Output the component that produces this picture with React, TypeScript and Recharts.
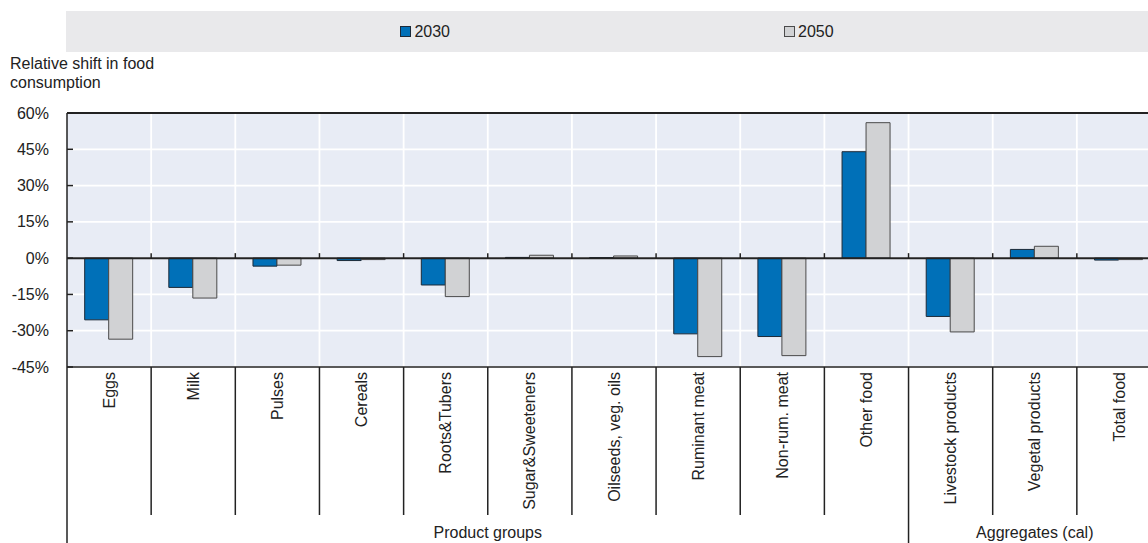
import React from "react";
import { BarChart, Bar, XAxis, YAxis, CartesianGrid, ReferenceLine } from "recharts";

const CATEGORIES = [
  "Eggs",
  "Milk",
  "Pulses",
  "Cereals",
  "Roots&Tubers",
  "Sugar&Sweeteners",
  "Oilseeds, veg. oils",
  "Ruminant meat",
  "Non-rum. meat",
  "Other food",
  "Livestock products",
  "Vegetal products",
  "Total food",
];
const SERIES_NAMES = ["2030", "2050"];
const VALUES_2030 = [-25.5, -12.1, -3.3, -1.0, -11.1, 0.3, 0.2, -31.3, -32.4, 44.0, -24.1, 3.6, -0.8];
const VALUES_2050 = [-33.5, -16.5, -2.9, -0.6, -15.9, 1.2, 0.9, -40.7, -40.3, 56.0, -30.5, 4.9, -0.6];
const Y_TICKS = [-45, -30, -15, 0, 15, 30, 45, 60];
const GROUPS = [
  { label: "Product groups", first: 0, count: 10 },
  { label: "Aggregates (cal)", first: 10, count: 3 },
];
const Y_TITLE = ["Relative shift in food", "consumption"];

const COLORS = ["#0070B8", "#D1D2D4"];
const STROKES = ["#1c2a38", "#4a4a4a"];

const data = CATEGORIES.map((c, i) => ({
  name: c,
  v2030: VALUES_2030[i],
  v2050: VALUES_2050[i],
}));

const CHART_W = 1161;
const CHART_H = 543;
const Y_AXIS_W = 67;
const X_AXIS_H = 176;
const TOP = 113;
const BW = (CHART_W - Y_AXIS_W) / CATEGORIES.length;
const FONT = "'Liberation Sans', Arial, sans-serif";
const TXT = "#222";

const YTick = (props: any) => {
  const { x, y, payload } = props;
  return (
    <g>
      <line x1={x} x2={x + 6} y1={y} y2={y} stroke={TXT} strokeWidth={1.5} />
      <text x={x - 18} y={y} dy="0.35em" textAnchor="end" fontSize={16} fill={TXT} fontFamily={FONT}>
        {payload.value}%
      </text>
    </g>
  );
};

const XTick = (props: any) => {
  const { x, y, payload } = props;
  const i = payload.index;
  const left = x - BW / 2;
  const isGroupStart = GROUPS.some((g) => g.first === i);
  const group = GROUPS.find((g) => g.first === i);
  return (
    <g>
      <line x1={left} x2={left} y1={y} y2={isGroupStart ? CHART_H : y + 148} stroke={TXT} strokeWidth={1.5} />
      <text
        x={x}
        y={y + 5}
        dy="0.35em"
        textAnchor="end"
        transform={`rotate(-90, ${x}, ${y + 5})`}
        fontSize={16}
        fill={TXT}
        fontFamily={FONT}
      >
        {payload.value}
      </text>
      {group && (
        <text
          x={left + (group.count * BW) / 2}
          y={y + 171}
          textAnchor="middle"
          fontSize={16}
          fill={TXT}
          fontFamily={FONT}
        >
          {group.label}
        </text>
      )}
    </g>
  );
};

const ZeroLine = (props: any) => {
  const { x1, y1, x2 } = props;
  const bw = (x2 - x1) / CATEGORIES.length;
  return (
    <g>
      <line x1={x1} x2={x2} y1={y1} y2={y1} stroke={TXT} strokeWidth={2} />
      {CATEGORIES.slice(1).map((_, k) => (
        <line
          key={k}
          x1={x1 + (k + 1) * bw}
          x2={x1 + (k + 1) * bw}
          y1={y1}
          y2={y1 - 5}
          stroke={TXT}
          strokeWidth={1.5}
        />
      ))}
    </g>
  );
};

const verticalGen = (args: any) => {
  const off = args && args.offset ? args.offset : { left: Y_AXIS_W, width: CHART_W - Y_AXIS_W };
  const w = off.width / CATEGORIES.length;
  return CATEGORIES.slice(1).map((_, k) => off.left + (k + 1) * w);
};

export default function App() {
  return (
    <div
      style={{
        position: "fixed",
        left: 0,
        top: 0,
        width: 1148,
        height: 543,
        overflow: "hidden",
        background: "#fff",
        fontFamily: FONT,
      }}
    >
      <div
        style={{
          position: "absolute",
          left: 66,
          top: 11,
          width: CHART_W - 66,
          height: 41,
          paddingLeft: 7,
          boxSizing: "border-box",
          background: "#E9E9EB",
          display: "flex",
          justifyContent: "center",
          alignItems: "center",
          gap: 334,
        }}
      >
        {SERIES_NAMES.map((n, i) => (
          <div key={n} style={{ display: "flex", alignItems: "center", color: TXT, fontSize: 16 }}>
            <span
              style={{
                display: "inline-block",
                width: 9,
                height: 9,
                background: COLORS[i],
                border: `1px solid ${STROKES[i]}`,
                marginRight: 3,
              }}
            />
            <span>{n}</span>
          </div>
        ))}
      </div>
      <div
        style={{
          position: "absolute",
          left: 10,
          top: 54,
          fontSize: 16,
          lineHeight: "19px",
          color: TXT,
        }}
      >
        {Y_TITLE.map((t) => (
          <div key={t}>{t}</div>
        ))}
      </div>
      <div style={{ position: "absolute", left: 0, top: 0 }}>
        <BarChart
          width={CHART_W}
          height={CHART_H}
          data={data}
          margin={{ top: TOP, right: 0, bottom: 0, left: 0 }}
          barCategoryGap="21%"
          barGap={0}
        >
          <CartesianGrid
            fill="#E8ECF5"
            stroke="#ffffff"
            strokeWidth={1.8}
            vertical={true}
            horizontal={true}
            verticalCoordinatesGenerator={verticalGen}
          />
          <XAxis
            dataKey="name"
            height={X_AXIS_H}
            interval={0}
            tickLine={false}
            tickSize={0}
            tickMargin={0}
            axisLine={{ stroke: TXT, strokeWidth: 1.5 }}
            tick={<XTick />}
          />
          <YAxis
            width={Y_AXIS_W}
            domain={[-45, 60]}
            ticks={Y_TICKS}
            interval={0}
            tickLine={false}
            tickSize={0}
            tickMargin={0}
            axisLine={{ stroke: TXT, strokeWidth: 1.5 }}
            tick={<YTick />}
            allowDataOverflow={true}
          />
          <Bar dataKey="v2030" name={SERIES_NAMES[0]} fill={COLORS[0]} stroke={STROKES[0]} strokeWidth={1} isAnimationActive={false} />
          <Bar dataKey="v2050" name={SERIES_NAMES[1]} fill={COLORS[1]} stroke={STROKES[1]} strokeWidth={1} isAnimationActive={false} />
          <ReferenceLine y={0} shape={<ZeroLine />} />
          <ReferenceLine y={60} stroke={TXT} strokeWidth={2} />
        </BarChart>
      </div>
    </div>
  );
}
